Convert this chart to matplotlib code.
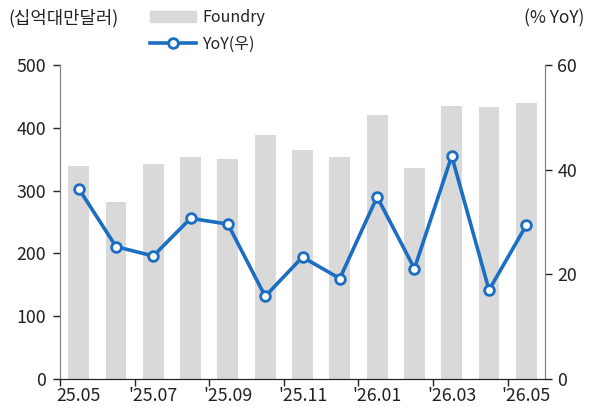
import numpy as np
import matplotlib
matplotlib.use('Agg')
import matplotlib.pyplot as plt
from matplotlib.patches import Patch
from matplotlib.lines import Line2D

plt.rcParams['font.family'] = ['Noto Sans CJK KR', 'DejaVu Sans']
plt.rcParams['axes.unicode_minus'] = False

months = ['25.05', "'25.06", "'25.07", "'25.08", "'25.09", "'25.10", "'25.11",
          "'25.12", "'26.01", "'26.02", "'26.03", "'26.04", "'26.05"]
foundry = [339, 282, 342, 354, 350, 388, 364, 354, 421, 336, 435, 433, 439]
yoy = [36.4, 25.3, 23.5, 30.7, 29.6, 15.8, 23.3, 19.2, 34.8, 21.1, 42.6, 17.0, 29.4]

BAR_C = '#d9d9d9'
LINE_C = '#1b6ec2'
TXT_C = '#222222'
FS = 11.5
TICK_FS = 12.8

fig = plt.figure(figsize=(5.89, 4.12), dpi=100)
ax = fig.add_axes([60 / 589, 1 - 379 / 412, 485 / 589, 314 / 412])
ax2 = ax.twinx()

x = np.arange(len(months))
ax.bar(x, foundry, width=0.56, color=BAR_C, zorder=1)
ax2.plot(x, yoy, color=LINE_C, lw=2.6, marker='o', ms=7, mfc='white',
         mec=LINE_C, mew=2, zorder=3)

ax.set_xlim(-0.5, len(months) - 0.5)
ax.set_ylim(0, 500)
ax2.set_ylim(0, 60)
ax.set_yticks(range(0, 501, 100))
ax2.set_yticks(range(0, 61, 20))

# labels every other month, tick marks between bars
ax.set_xticks(x[::2])
ax.set_xticklabels(months[::2])
ax.set_xticks(np.arange(-0.5, len(months) - 1, 2), minor=True)
ax.tick_params(axis='x', which='major', length=0, labelsize=TICK_FS, pad=6, colors=TXT_C)
ax.tick_params(axis='x', which='minor', length=5, width=1, color=TXT_C)
ax.tick_params(axis='y', length=5, width=1, labelsize=TICK_FS, colors=TXT_C, pad=5)
ax2.tick_params(axis='y', length=5, width=1, labelsize=TICK_FS, colors=TXT_C, pad=4)
for t in ax.get_yticklines() + ax2.get_yticklines():
    t.set_color('#808080')

for a in (ax, ax2):
    a.spines['top'].set_visible(False)
    a.spines['left'].set_color('#808080')
    a.spines['right'].set_color('#808080')
    a.spines['bottom'].set_color(TXT_C)

ax.set_zorder(1)
ax2.set_zorder(2)
ax2.patch.set_visible(False)

fig.text(8 / 589, 1 - 18 / 412, '(십억대만달러)', fontsize=12.8, va='center', ha='left', color=TXT_C)
fig.text(584 / 589, 1 - 18 / 412, '(% YoY)', fontsize=12.5, va='center', ha='right', color=TXT_C)

handles = [Patch(color=BAR_C),
           Line2D([], [], color=LINE_C, lw=2.6, marker='o', ms=7, mfc='white', mec=LINE_C, mew=2)]
fig.legend(handles, ['Foundry', 'YoY(우)'], loc='upper left',
           bbox_to_anchor=(150 / 589, 1 - 9 / 412), frameon=False, fontsize=FS,
           handlelength=2.9, handleheight=0.7, handletextpad=0.35, labelspacing=0.6,
           borderpad=0, borderaxespad=0, labelcolor=TXT_C)

fig.savefig('out.png', dpi=100)
